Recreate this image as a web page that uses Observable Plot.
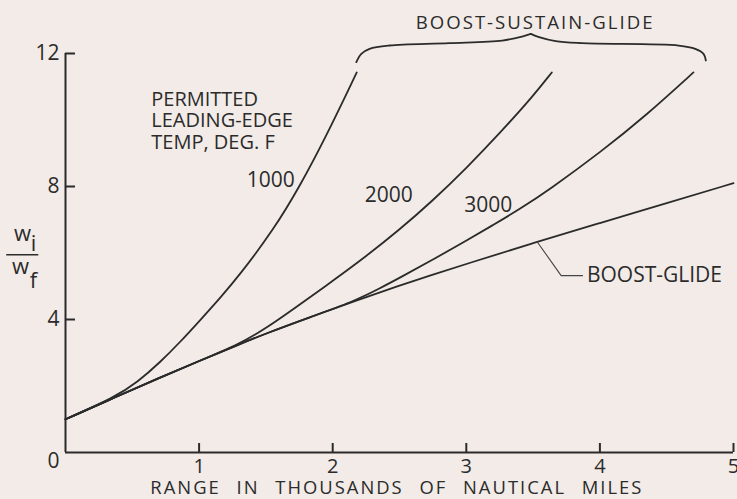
<!DOCTYPE html>
<html><head><meta charset="utf-8">
<script src="https://cdn.jsdelivr.net/npm/d3@7"></script>
<script src="https://cdn.jsdelivr.net/npm/@observablehq/plot@0.6"></script>
<style>
html,body{margin:0;padding:0;background:#f2ebe7;overflow:hidden;}
#chart svg{display:block;}
</style></head><body><div id="chart"></div>
<script>
// Tick values
const xTicks = [1, 2, 3, 4, 5];
const yTicks = [4, 8, 12];

// Boost-glide curve
const boostGlideX = [0, 0.37, 0.7, 1.0, 1.28, 1.5, 1.83, 2.15, 2.5, 2.75, 3.0, 3.5, 4.0, 4.5, 5];
const boostGlideY = [1.0, 1.66, 2.24, 2.75, 3.22, 3.58, 4.07, 4.53, 5.02, 5.35, 5.67, 6.3, 6.9, 7.5, 8.1];

// Boost-sustain-glide curves, permitted leading-edge temperature (deg F)
const t1000X = [0, 0.37, 0.54, 0.71, 0.86, 1.01, 1.16, 1.31, 1.56, 1.75, 1.95, 2.18];
const t1000Y = [1.0, 1.66, 2.12, 2.72, 3.33, 3.99, 4.66, 5.37, 6.72, 7.98, 9.5, 11.43];
const t2000X = [0, 0.37, 0.7, 1.0, 1.28, 1.5, 1.83, 2.0, 2.25, 2.5, 2.75, 3.0, 3.25, 3.5, 3.64];
const t2000Y = [1.0, 1.66, 2.24, 2.75, 3.22, 3.72, 4.67, 5.16, 5.9, 6.7, 7.58, 8.55, 9.6, 10.72, 11.43];
const t3000X = [0, 0.37, 0.7, 1.0, 1.28, 1.5, 1.83, 2.15, 2.35, 2.5, 2.75, 3.0, 3.2, 3.4, 3.62, 4.01, 4.35, 4.70];
const t3000Y = [1.0, 1.66, 2.24, 2.75, 3.22, 3.58, 4.07, 4.53, 4.93, 5.25, 5.8, 6.37, 6.84, 7.32, 7.9, 9.05, 10.15, 11.43];

// Brace over the boost-sustain-glide curve ends (two halves)
const braceX = [2.177, 2.214, 2.276, 2.425, 2.873, 3.269, 3.418, 3.483,
                3.483, 3.545, 3.669, 3.866, 4.590, 4.714, 4.776, 4.793];
const braceY = [11.74, 11.99, 12.14, 12.24, 12.31, 12.39, 12.51, 12.59,
                12.59, 12.49, 12.37, 12.31, 12.24, 12.14, 11.99, 11.79];
const braceSide = ["L","L","L","L","L","L","L","L","R","R","R","R","R","R","R","R"];

// Leader line to the BOOST-GLIDE label
const leaderX = [3.53, 3.71, 3.87];
const leaderY = [6.34, 5.32, 5.32];

// Texts
const noteLines = ["PERMITTED", "LEADING-EDGE", "TEMP, DEG. F"];
const tempLabels = ["1000", "2000", "3000"];
const xTitle = "RANGE IN THOUSANDS OF NAUTICAL MILES";

const toRows = (xs, ys, name) => xs.map((x, i) => ({x, y: ys[i], series: name}));
const curves = [
  ...toRows(boostGlideX, boostGlideY, "BG"),
  ...toRows(t1000X, t1000Y, "1000"),
  ...toRows(t2000X, t2000Y, "2000"),
  ...toRows(t3000X, t3000Y, "3000")
];
const brace = braceX.map((x, i) => ({x, y: braceY[i], side: braceSide[i]}));
const leader = leaderX.map((x, i) => ({x, y: leaderY[i]}));

const ink = "#2b2b2b";
const font = "Open Sans";

const plot = Plot.plot({
  width: 737,
  height: 499,
  marginLeft: 65,
  marginRight: 4,
  marginTop: 53,
  marginBottom: 47,
  x: {domain: [0, 5], axis: null},
  y: {domain: [0, 12], axis: null},
  style: {background: "#f2ebe7", fontFamily: font, color: ink},
  marks: [
    // axes
    Plot.ruleX([0], {y1: 0, y2: 12, stroke: ink, strokeWidth: 2}),
    Plot.ruleY([0], {x1: 0, x2: 5, stroke: ink, strokeWidth: 2}),
    Plot.ruleY(yTicks, {y: d => d, x1: 0, x2: 0.075, stroke: ink, strokeWidth: 2}),
    Plot.ruleX(xTicks, {x: d => d, y1: 0, y2: 0.27, stroke: ink, strokeWidth: 2}),
    Plot.text(yTicks, {x: 0, y: d => d, text: d => String(d), textAnchor: "end", dx: -6, fontSize: 21, fill: ink}),
    Plot.text(["0"], {x: 0, y: 0, text: d => d, textAnchor: "end", dx: -6, dy: 9, fontSize: 21, fill: ink}),
    Plot.text(xTicks, {x: d => d, y: 0, text: d => String(d), dy: 14, fontSize: 20, fill: ink}),
    Plot.text([xTitle], {x: 2.48, y: 0, text: d => d, dy: 36, fontSize: 18.4, fill: ink}),
    // y label: w_i / w_f
    Plot.ruleY([5.95], {x1: -0.44, x2: -0.2, stroke: ink, strokeWidth: 1.5}),
    Plot.text(["w"], {x: 0, y: 5.95, text: d => d, dx: -43, dy: -14, lineAnchor: "bottom", fontSize: 22, fill: ink}),
    Plot.text(["i"], {x: 0, y: 5.95, text: d => d, dx: -32, dy: -4, lineAnchor: "bottom", fontSize: 22, fill: ink}),
    Plot.text(["w"], {x: 0, y: 5.95, text: d => d, dx: -45, dy: 19, lineAnchor: "bottom", fontSize: 22, fill: ink}),
    Plot.text(["f"], {x: 0, y: 5.95, text: d => d, dx: -32, dy: 33, lineAnchor: "bottom", fontSize: 22, fill: ink}),
    // curves
    Plot.line(curves, {x: "x", y: "y", z: "series", curve: "basis", stroke: ink, strokeWidth: 1.8}),
    // brace
    Plot.line(brace, {x: "x", y: "y", z: "side", curve: "catmull-rom", stroke: ink, strokeWidth: 1.8}),
    Plot.text(["BOOST-SUSTAIN-GLIDE"], {x: 3.515, y: 12.93, text: d => d, fontSize: 18.6, fill: ink}),
    // leader + boost-glide label
    Plot.line(leader, {x: "x", y: "y", stroke: "#444", strokeWidth: 1.1}),
    Plot.text(["BOOST-GLIDE"], {x: 3.903, y: 5.32, text: d => d, textAnchor: "start", fontSize: 21, fill: ink}),
    // note (three lines in one text)
    Plot.text([noteLines.join("\n")], {x: 0.642, y: 9.985, text: d => d, textAnchor: "start", lineHeight: 1.08, fontSize: 20, fill: ink}),
    // temperature labels
    Plot.text([tempLabels[0]], {x: 1.716, y: 8.18, text: d => d, textAnchor: "end", fontSize: 21, fill: ink}),
    Plot.text([tempLabels[1]], {x: 2.239, y: 7.73, text: d => d, textAnchor: "start", fontSize: 21, fill: ink}),
    Plot.text([tempLabels[2]], {x: 2.985, y: 7.43, text: d => d, textAnchor: "start", fontSize: 21, fill: ink})
  ]
});
document.getElementById("chart").appendChild(plot);

// letter spacing tweaks for hand-lettered look
d3.select(plot).selectAll("text").each(function () {
  const t = this.textContent;
  if (t === xTitle) { this.style.letterSpacing = "2px"; this.style.wordSpacing = "9px"; }
  if (t === "BOOST-SUSTAIN-GLIDE") { this.style.letterSpacing = "2px"; }
});
</script>
</body></html>
